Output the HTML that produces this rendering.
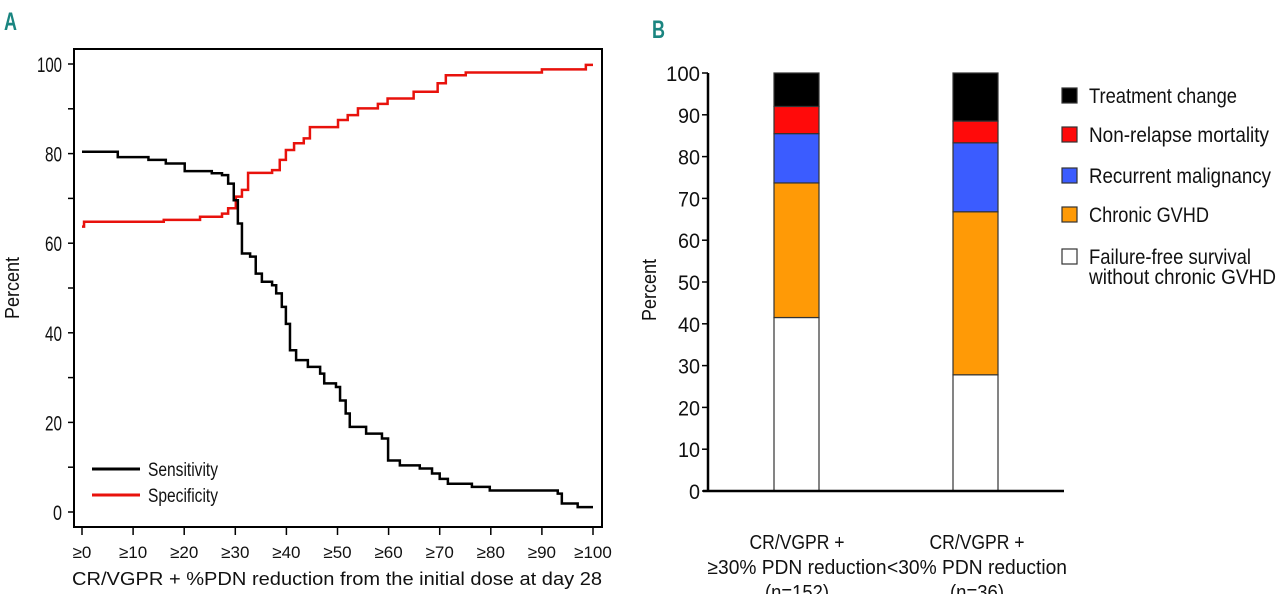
<!DOCTYPE html>
<html><head><meta charset="utf-8"><style>
html,body{margin:0;padding:0;background:#fff;}
svg{display:block;font-family:"Liberation Sans",sans-serif;}
</style></head><body>
<svg id="chart" width="1280" height="594" viewBox="0 0 1280 594" xmlns="http://www.w3.org/2000/svg">
<text x="4" y="30" font-size="25" font-weight="bold" fill="#1a8580" textLength="13" lengthAdjust="spacingAndGlyphs">A</text>
<text x="652" y="38" font-size="25" font-weight="bold" fill="#1a8580" textLength="13" lengthAdjust="spacingAndGlyphs">B</text>
<g id="pa"></g>
<g id="pb"></g>
</svg>
<script>
// Panel A data
const sensX=[0,7,13,16.4,20.1,25.4,27.4,28.6,29.7,30.5,31.3,32.9,34,35.2,37.2,38,39.1,39.9,40.7,41.9,44.2,46.6,47.4,49.7,50.5,51.6,52.4,55.6,58.7,59.9,62.2,66.1,68.5,70,71.6,76.3,79.8,93.1,93.9,97,100];
const sensY=[80.4,79.2,78.6,77.8,76.1,75.6,75.2,73.3,69.6,64.4,57.7,57,53.2,51.4,50.6,48.8,45.8,42,36.1,33.9,32.4,30.9,28.7,27.9,24.9,22,19,17.5,16.4,11.5,10.4,9.7,8.6,7.4,6.3,5.6,4.8,4.1,1.9,1.1,1.1];
const specX=[0,0.4,16,23.1,27.4,28.6,30.1,31.3,32.5,37.2,38.7,39.9,41.5,43.4,44.6,50.1,52,54,57.9,59.8,64.9,69.6,71.2,75.1,90,98.6,100];
const specY=[63.7,64.8,65.2,65.9,66.6,67.8,70.4,71.9,75.7,76.3,78.6,80.8,82.3,83.4,85.9,87.5,88.6,90.1,91.1,92.3,93.8,95.7,97.5,98.1,98.8,99.8,99.8];
const aTicksY=[0,20,40,60,80,100];
const aTicksX=["≥0","≥10","≥20","≥30","≥40","≥50","≥60","≥70","≥80","≥90","≥100"];
// Panel B data
const bCats=[["CR/VGPR +","≥30% PDN reduction","(n=152)"],["CR/VGPR +","<30% PDN reduction","(n=36)"]];
const bSeries=["Failure-free survival","Chronic GVHD","Recurrent malignancy","Non-relapse mortality","Treatment change"];
const bFFS=[41.5,27.8];
const bCGVHD=[32.2,39];
const bRecur=[11.8,16.5];
const bNRM=[6.5,5.2];
const bTreat=[8,11.5];
const bTicks=[0,10,20,30,40,50,60,70,80,90,100];

const NS="http://www.w3.org/2000/svg";
function mk(parent,tag,attrs,text){const e=document.createElementNS(NS,tag);for(const k in attrs)e.setAttribute(k,attrs[k]);if(text!==undefined)e.textContent=text;parent.appendChild(e);return e;}

// Panel A
const pa=document.getElementById('pa');
const ax=v=>82+v*5.11, ay=v=>512-v*4.48;
let r=mk(pa,'rect',{x:74,y:49,width:528,height:478,fill:'none',stroke:'#000','stroke-width':2});


aTicksY.forEach(v=>{
  let t=mk(pa,'text',{x:62,y:ay(v)+8,'text-anchor':'end','font-size':21,fill:'#111',textLength:v>=100?25:(v==0?9:17),lengthAdjust:'spacingAndGlyphs'},v);
  
  
  mk(pa,'line',{x1:68,x2:74,y1:ay(v),y2:ay(v),stroke:'#000','stroke-width':1.5});
  if(v<100) mk(pa,'line',{x1:68,x2:74,y1:ay(v+10),y2:ay(v+10),stroke:'#000','stroke-width':1.5});
});
aTicksX.forEach((s,i)=>{
  const x=ax(i*10);
  mk(pa,'line',{x1:x,x2:x,y1:527,y2:535,stroke:'#000','stroke-width':1.5});
  let t=mk(pa,'text',{x:x,y:558,'text-anchor':'middle','font-size':17,fill:'#111'},s);
  
  
});
let at=mk(pa,'text',{x:337,y:585,'text-anchor':'middle','font-size':18,fill:'#111',textLength:530,lengthAdjust:'spacingAndGlyphs'},'CR/VGPR + %PDN reduction from the initial dose at day 28');


let ayt=mk(pa,'text',{x:0,y:0,transform:'translate(19,288) rotate(-90)','text-anchor':'middle','font-size':20,fill:'#111',textLength:62,lengthAdjust:'spacingAndGlyphs'},'Percent');


function stepPath(xs,ys){let d='M'+ax(xs[0])+','+ay(ys[0]);for(let i=1;i<xs.length;i++){d+=' L'+ax(xs[i])+','+ay(ys[i-1])+' L'+ax(xs[i])+','+ay(ys[i]);}return d;}
let sp=mk(pa,'path',{d:stepPath(specX,specY),fill:'none',stroke:'#e8120c','stroke-width':2.5});


let ss=mk(pa,'path',{d:stepPath(sensX,sensY),fill:'none',stroke:'#000','stroke-width':2.5});


[['Sensitivity','#000',469],['Specificity','#e8120c',495]].forEach(([n,c,y])=>{
  let g=mk(pa,'g',{});
  
  
  mk(g,'line',{x1:92,x2:140,y1:y,y2:y,stroke:c,'stroke-width':3});
  mk(g,'text',{x:148,y:y+7,'font-size':19,fill:'#111',textLength:70,lengthAdjust:'spacingAndGlyphs'},n);
});

// Panel B
const pb=document.getElementById('pb');
const by=v=>491-v*4.18;
const barX=[774,953], bw=45;
const colors=['#ffffff','#ff9a06','#3b5cff','#ff0a0a','#000000'];
const stacks=[bFFS,bCGVHD,bRecur,bNRM,bTreat];
bTicks.forEach(v=>{
  mk(pb,'line',{x1:702,x2:708,y1:by(v),y2:by(v),stroke:'#000','stroke-width':1.5});
  let t=mk(pb,'text',{x:700,y:by(v)+8,'text-anchor':'end','font-size':21,fill:'#111',textLength:v>=100?34:(v==0?11:22),lengthAdjust:'spacingAndGlyphs'},v);
  
  
});
const catW=[[95,179,64],[95,180,54]];
const catX=[797,977];
bCats.forEach((lines,i)=>{
  let base=0;
  stacks.forEach((arr,s)=>{
    const v=arr[i];
    let rc=mk(pb,'rect',{x:barX[i],y:by(base+v),width:bw,height:v*4.18,fill:colors[s],stroke:'#333','stroke-width':1.2});
    
    
    base+=v;
  });
  lines.forEach((l,j)=>{
    let t=mk(pb,'text',{x:catX[i],y:549+j*25,'text-anchor':'middle','font-size':20,fill:'#111',textLength:catW[i][j],lengthAdjust:'spacingAndGlyphs'},l);
    
    
  });
});
let yb=mk(pb,'line',{x1:708,x2:708,y1:by(100),y2:492,stroke:'#000','stroke-width':2.5});


let xb=mk(pb,'line',{x1:703,x2:1064,y1:491,y2:491,stroke:'#000','stroke-width':2.5});


let pbt=mk(pb,'text',{x:0,y:0,transform:'translate(656,290) rotate(-90)','text-anchor':'middle','font-size':20,fill:'#111',textLength:62,lengthAdjust:'spacingAndGlyphs'},'Percent');


const legY=[95,134,175,214,256];
const legLabels=[["Treatment change"],["Non-relapse mortality"],["Recurrent malignancy"],["Chronic GVHD"],["Failure-free survival","without chronic GVHD"]];
const legW=[148,180,182,120,162];
for(let k=0;k<5;k++){
  const s=4-k;
  let g=mk(pb,'g',{});
  
  
  mk(g,'rect',{x:1062,y:legY[k]-7,width:15,height:15,fill:colors[s],stroke:'#333','stroke-width':1.2});
  legLabels[k].forEach((l,j)=>{
    mk(g,'text',{x:1089,y:legY[k]+8+j*20,'font-size':21,fill:'#111',textLength:j?187:legW[k],lengthAdjust:'spacingAndGlyphs'},l);
  });
}
</script>
</body></html>
